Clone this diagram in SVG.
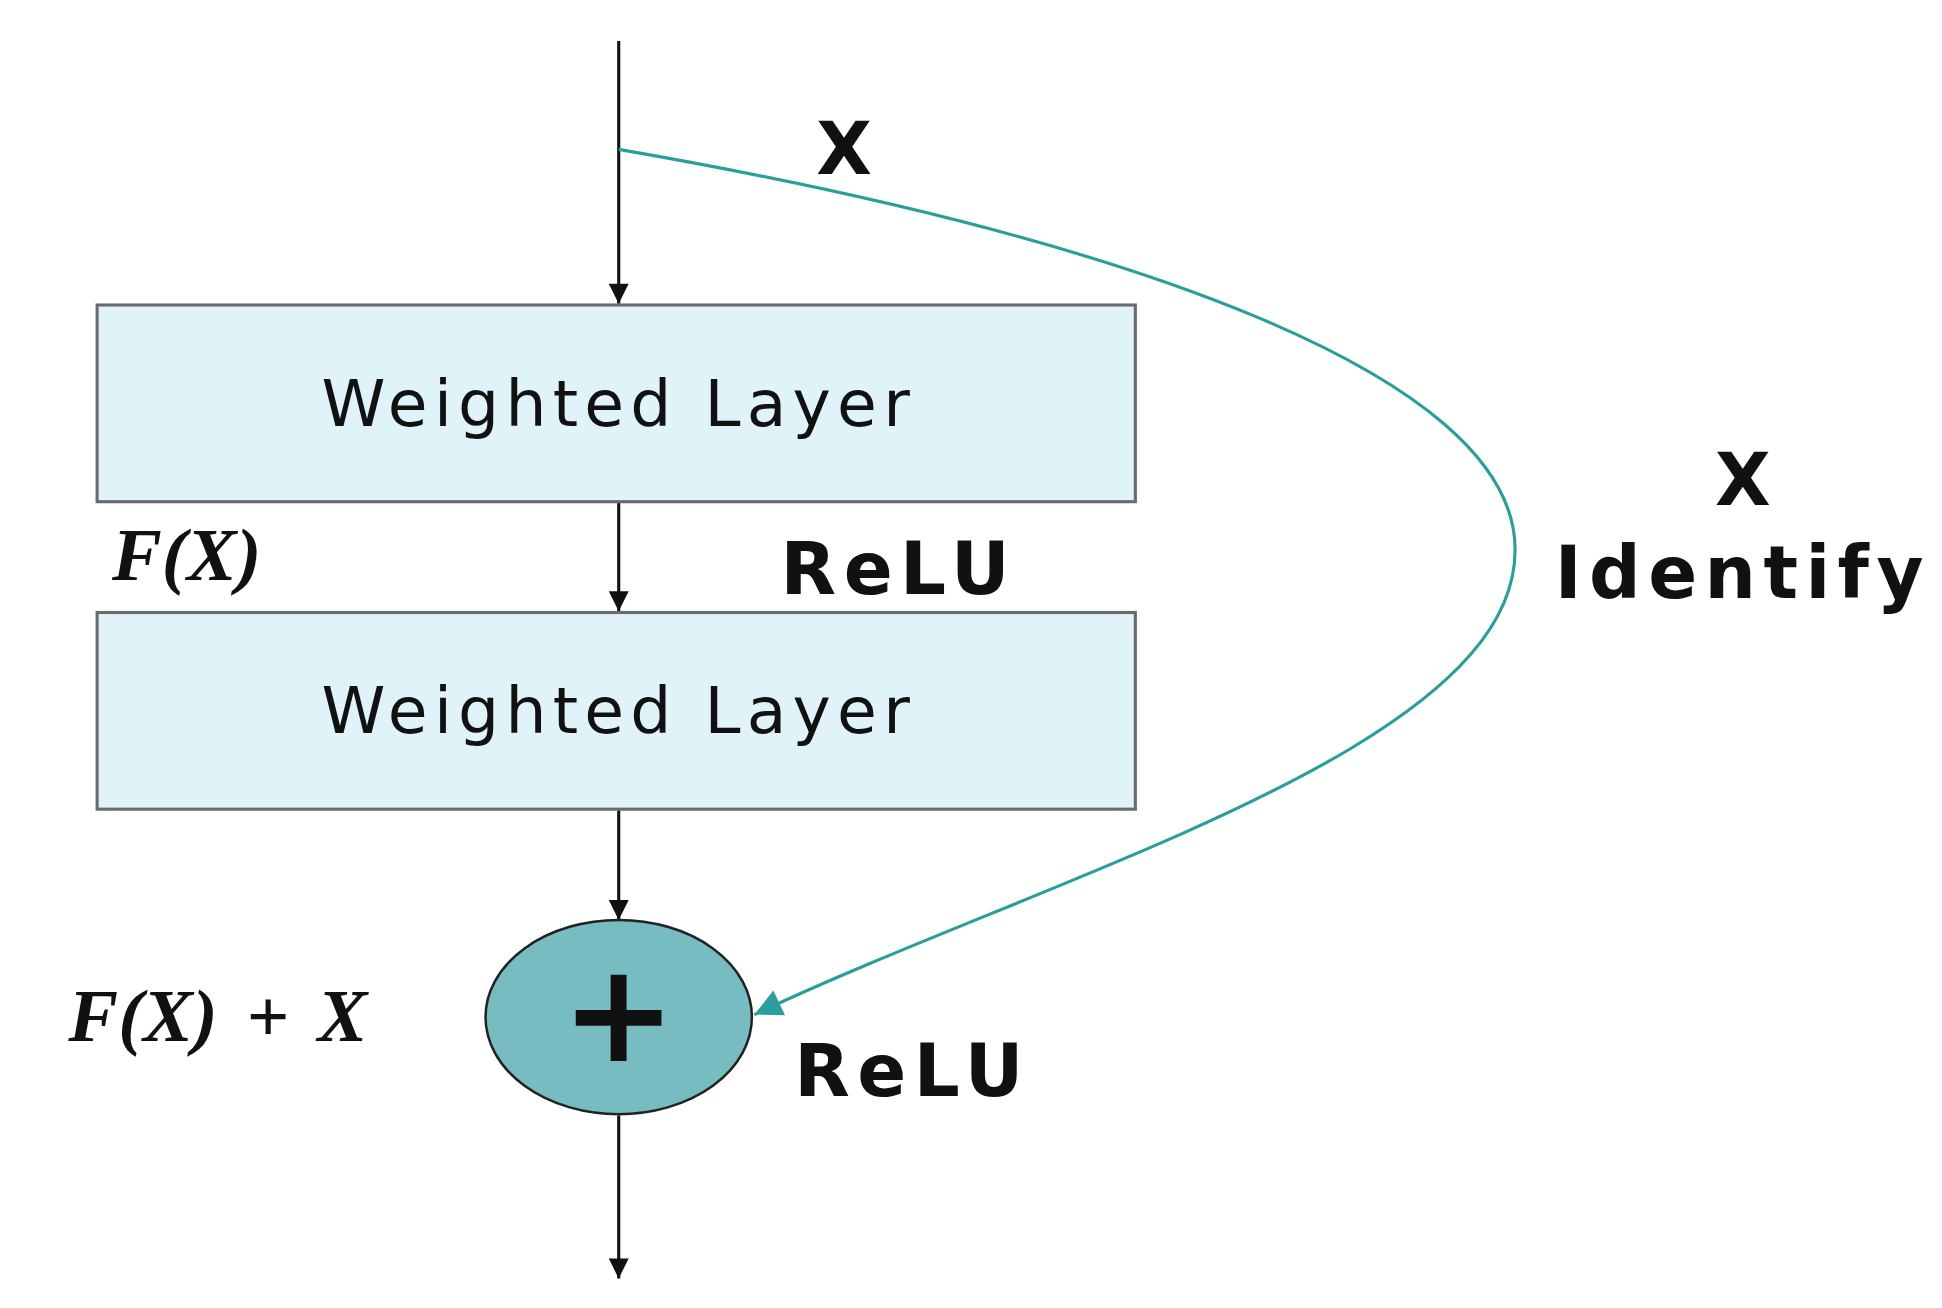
<svg xmlns="http://www.w3.org/2000/svg" width="1942" height="1308" viewBox="0 0 1942 1308">
<defs>
<style>
.box{fill:#dff3f8;stroke:#6b6b6b;stroke-width:2.5}
.ln{stroke:#111;stroke-width:2.5;fill:none}
.wl{font-family:"DejaVu Sans",sans-serif;font-size:52px;letter-spacing:5px;fill:#111;text-anchor:middle}
.lb{font-family:"DejaVu Sans",sans-serif;font-weight:bold;font-size:58px;letter-spacing:6px;fill:#111;text-anchor:middle}
.it{font-family:"Liberation Serif",serif;font-style:italic;font-weight:bold;font-size:60px;fill:#111;text-anchor:middle}
</style>
<marker id="ah" viewBox="0 0 10 10" refX="10" refY="5" markerWidth="20" markerHeight="16" markerUnits="userSpaceOnUse" orient="auto"><path d="M0,0 L10,5 L0,10 z" fill="#111"/></marker>
<marker id="at" viewBox="0 0 10 10" refX="10" refY="5" markerWidth="26" markerHeight="22" markerUnits="userSpaceOnUse" orient="auto"><path d="M0,0 L10,5 L0,10 z" fill="#2a9d9d"/></marker>
</defs>
<rect width="1942" height="1308" fill="#fff"/>
<g transform="scale(1.2449)">
<g id="connectors">
<line class="ln" x1="497" y1="33" x2="497" y2="244" marker-end="url(#ah)"/>
<line class="ln" x1="497" y1="404" x2="497" y2="491" marker-end="url(#ah)"/>
<line class="ln" x1="497" y1="651" x2="497" y2="739" marker-end="url(#ah)"/>
<line class="ln" x1="497" y1="896" x2="497" y2="1027" marker-end="url(#ah)"/>
<path d="M497,120 C900,190 1215,300 1217,440 C1220,600 850,700 606,815" fill="none" stroke="#2a9d9d" stroke-width="2.5" marker-end="url(#at)"/>
</g>
<g id="layer1"><rect class="box" x="78" y="245" width="834" height="158"/><text class="wl" x="497" y="342">Weighted Layer</text></g>
<g id="layer2"><rect class="box" x="78" y="492" width="834" height="158"/><text class="wl" x="497" y="589">Weighted Layer</text></g>
<g id="sum"><ellipse cx="497" cy="817" rx="107" ry="78" fill="#76bcc0" stroke="#222" stroke-width="2"/><text x="497" y="852" font-family="DejaVu Sans,sans-serif" font-weight="bold" font-size="110" text-anchor="middle" fill="#111">+</text></g>
<g id="labels">
<text class="lb" x="681" y="140">X</text>
<text class="lb" x="1403" y="406">X</text>
<text class="lb" x="1400" y="480">Identify</text>
<text class="lb" x="722" y="477">ReLU</text>
<text class="lb" x="733" y="880">ReLU</text>
<text class="it" x="150" y="466">F(X)</text>
<text class="it" x="175" y="836" word-spacing="8">F(X) + X</text>
</g>
</g>
</svg>
